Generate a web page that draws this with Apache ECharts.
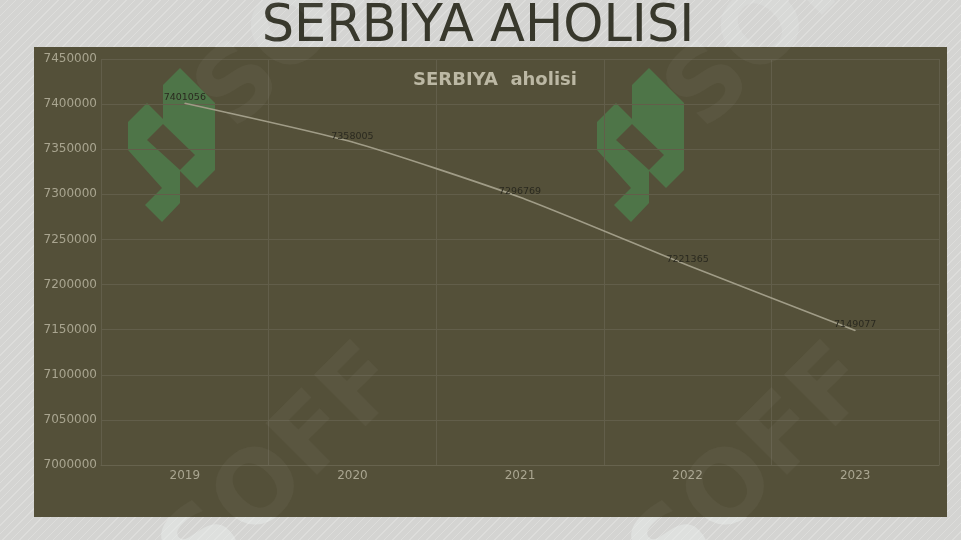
<!DOCTYPE html>
<html>
<head>
<meta charset="utf-8">
<script src="https://cdn.jsdelivr.net/npm/echarts@6/dist/echarts.min.js"></script>
<style>
  html, body { margin: 0; padding: 0; }
  body {
    width: 961px; height: 540px; overflow: hidden;
    background-color: #d4d4d2;
    background-image: repeating-linear-gradient(135deg, #d4d4d2 0px, #d4d4d2 5px, #dddddb 5px, #dddddb 6px);
  }
  #chart { width: 961px; height: 540px; }
</style>
</head>
<body>
<div id="chart"></div>
<script>
// ---- data ----
const categories = ['2019', '2020', '2021', '2022', '2023'];
const population = [7401056, 7358005, 7296769, 7221365, 7149077];
const yTicks = { min: 7000000, max: 7450000, interval: 50000 };
const mainTitle = 'SERBIYA AHOLISI';
const chartTitle = 'SERBIYA  aholisi';

// ---- watermark logo shapes (decoration) ----
const logoOuter = [[180,68],[215,103],[215,170],[197,188],[180,171],[180,203],[162,222],[145,205],[162,188],[128,150],[128,122],[147,103],[163,119],[163,85]];
const logoHole = [[147,140],[163,124],[195,155],[180,170]];
function shift(pts, dx) { return pts.map(p => [p[0] + dx, p[1]]); }

const chart = echarts.init(document.getElementById('chart'), null, { renderer: 'canvas' });

function wm(x, y, z, alpha) {
  return { type: 'text', z: z, x: x, y: y, rotation: Math.PI / 4, silent: true,
    style: { fill: 'rgba(235,240,238,' + alpha + ')', font: 'bold 100px "DejaVu Sans"', text: 'SOFF', textAlign: 'center', textVerticalAlign: 'middle' } };
}
const wmPos = [[285, 470], [755, 470], [320, 10], [790, 10]];
const wmGraphics = [];
wmPos.forEach((p, i) => {
  wmGraphics.push(wm(p[0], p[1], -20, i < 2 ? 0.45 : 0.18));
  wmGraphics.push(wm(p[0], p[1], 100, 0.045));
});

chart.setOption({
  backgroundColor: 'transparent',
  animation: false,
  title: [
    {
      text: mainTitle, left: 473, top: -3, textAlign: 'center',
      textStyle: { fontFamily: 'DejaVu Sans', fontSize: 51, fontWeight: 'normal', color: '#38382c' }
    },
    {
      text: chartTitle, left: 490, top: 66, textAlign: 'center',
      textStyle: { fontFamily: 'DejaVu Sans', fontSize: 18, fontWeight: 'bold', color: '#bcb8a4' }
    }
  ],
  graphic: [
    { type: 'rect', z: -10, shape: { x: 34, y: 47, width: 913, height: 470 }, style: { fill: '#545039' }, silent: true },
    { type: 'polygon', z: -5, shape: { points: logoOuter }, style: { fill: '#4e7548' }, silent: true },
    { type: 'polygon', z: -5, shape: { points: logoHole }, style: { fill: '#545039' }, silent: true },
    { type: 'polygon', z: -5, shape: { points: shift(logoOuter, 469) }, style: { fill: '#4e7548' }, silent: true },
    { type: 'polygon', z: -5, shape: { points: shift(logoHole, 469) }, style: { fill: '#545039' }, silent: true }
  ].concat(wmGraphics),
  grid: { left: 101, right: 22, top: 59, bottom: 75, containLabel: false },
  xAxis: {
    type: 'category',
    data: categories,
    boundaryGap: true,
    axisLine: { show: true, lineStyle: { color: '#67634e', width: 1 } },
    axisTick: { show: false },
    splitLine: { show: true, lineStyle: { color: '#625e4a', width: 1 } },
    axisLabel: { color: '#a9a590', fontFamily: 'DejaVu Sans', fontSize: 12, margin: 5 }
  },
  yAxis: {
    type: 'value',
    min: yTicks.min, max: yTicks.max, interval: yTicks.interval,
    axisLine: { show: false },
    axisTick: { show: false },
    splitLine: { show: true, lineStyle: { color: '#625e4a', width: 1 } },
    axisLabel: { color: '#a9a590', fontFamily: 'DejaVu Sans', fontSize: 12, margin: 4, formatter: v => String(v) }
  },
  series: [{
    type: 'line',
    data: population,
    smooth: 0.2,
    symbol: 'circle',
    symbolSize: 1,
    itemStyle: { color: '#a09c87' },
    lineStyle: { color: '#a09c87', width: 1.6 },
    label: {
      show: true, position: 'top', distance: 0,
      color: '#2a291f', fontFamily: 'DejaVu Sans', fontSize: 9.5
    }
  }]
});
</script>
</body>
</html>
